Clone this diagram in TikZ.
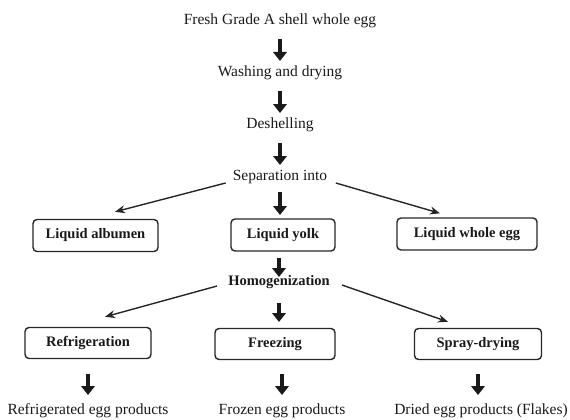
\documentclass[tikz,border=0pt]{standalone}
\usepackage{fontspec}
\setmainfont{Liberation Serif}
\usetikzlibrary{arrows.meta}
\begin{document}
\begin{tikzpicture}[x=1pt,y=-1pt,
  lbl/.style={inner sep=0pt, text=black!90, font=\fontsize{15.5}{18}\selectfont},
  hlbl/.style={inner sep=0pt, text=black!90, font=\fontsize{14.5}{17}\selectfont\bfseries},
  box/.style={draw=black!85, line width=1.4pt, rounded corners=4pt, text=black!90,
    font=\fontsize{14.5}{17}\selectfont\bfseries, minimum height=32pt, inner sep=0pt},
  blk/.style={draw=black!90, line width=4.8pt, -{Triangle[width=13.5pt,length=9pt]}},
  thinarr/.style={draw=black!85, line width=1.4pt, -{Stealth[length=10pt,width=8pt]}}
]
\useasboundingbox (0,0) rectangle (570,420);

\node[lbl] (fresh) at (280,21) {Fresh Grade A shell whole egg};
\node[lbl] (wash) at (280,73) {Washing and drying};
\node[lbl] (desh) at (280,125) {Deshelling};
\node[lbl] (sep) at (280,177) {Separation into};

\node[box, minimum width=125pt] (alb) at (95.5,235.5) {Liquid albumen};
\node[box, minimum width=104pt] (yolk) at (283,235) {Liquid yolk};
\node[box, minimum width=140pt] (whole) at (467,234) {Liquid whole egg};

\node[hlbl] (homog) at (279,282) {Homogenization};

\node[box, minimum width=126pt, minimum height=31pt] (refr) at (88,343) {Refrigeration};
\node[box, minimum width=120pt, minimum height=31pt] (freeze) at (275,344) {Freezing};
\node[box, minimum width=127pt, minimum height=31pt] (spray) at (478,344) {Spray-drying};

\node[lbl] (rprod) at (88,411) {Refrigerated egg products};
\node[lbl] (fprod) at (282,411) {Frozen egg products};
\node[lbl] (dprod) at (481,411) {Dried egg products (Flakes)};

% block arrows
\draw[blk, shorten <=18pt, shorten >=12pt] (fresh.center) -- (wash.center);
\draw[blk, shorten <=18pt, shorten >=12pt] (wash.center) -- (desh.center);
\draw[blk, shorten <=18pt, shorten >=12pt] (desh.center) -- (sep.center);
\draw[blk, shorten <=15pt, shorten >=20pt] (sep.center) -- (sep.center |- yolk.center);
\draw[blk, shorten <=23pt, shorten >=5pt] (homog.center |- yolk.center) -- (homog.center);
\draw[blk, shorten <=21pt, shorten >=22pt] (homog.center) -- (homog.center |- freeze.center);
\draw[blk, shorten <=31pt, shorten >=16pt] (refr.center) -- (refr.center |- rprod.center);
\draw[blk, shorten <=30pt, shorten >=16pt] (fprod.center |- freeze.center) -- (fprod.center);
\draw[blk, shorten <=30pt, shorten >=16pt] (spray.center) -- (spray.center |- dprod.center);

% thin arrows
\draw[thinarr] ([xshift=-7pt,yshift=-6pt]sep.west) -- ([xshift=19.5pt,yshift=7pt]alb.north);
\draw[thinarr] ([xshift=8.5pt,yshift=-6pt]sep.east) -- ([xshift=-27pt,yshift=4pt]whole.north);
\draw[thinarr] ([xshift=-11pt,yshift=-4pt]homog.west) -- ([xshift=17pt,yshift=10pt]refr.north);
\draw[thinarr] ([xshift=12pt,yshift=-3pt]homog.east) -- ([xshift=-30pt,yshift=6pt]spray.north);
\end{tikzpicture}
\end{document}
